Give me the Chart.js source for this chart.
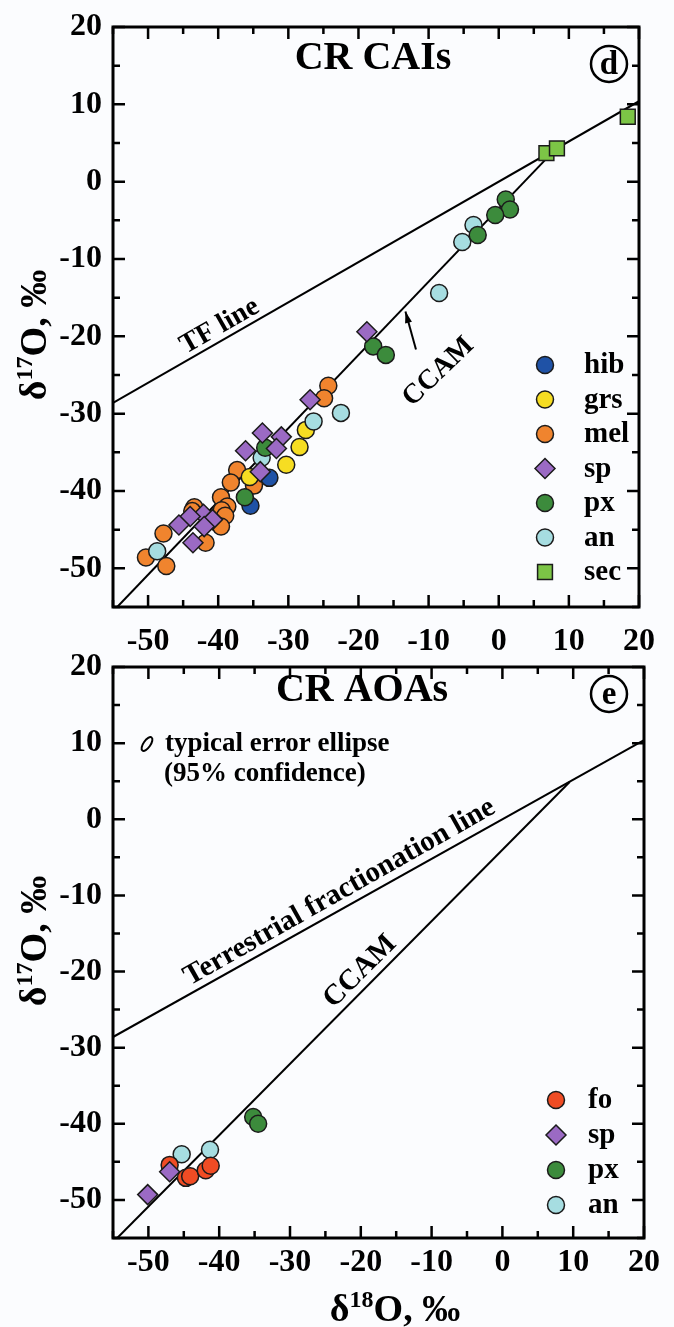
<!DOCTYPE html>
<html lang="en">
<head>
<meta charset="UTF-8">
<title>CR CAIs and AOAs: oxygen isotopes</title>
<script src="https://cdn.jsdelivr.net/npm/chart.js"></script>
<style>
  body { margin: 0; background: #fbfcfe; }
  #page { position: relative; width: 674px; height: 1327px; }
  .panel { position: absolute; left: 0; width: 674px; }
  #panelD { top: 0; height: 660px; }
  #panelE { top: 640px; height: 687px; }
</style>
</head>
<body>
<div id="page">
  <div class="panel" id="panelD"><canvas id="caiChart"></canvas></div>
  <div class="panel" id="panelE"><canvas id="aoaChart"></canvas></div>
</div>
<script>
// axis range and ticks (delta18O on x, delta17O on y, permil)
const axisMin = -55;
const axisMax = 20;
const tickStep = 5;

// reference lines: [x0, x1], [y0, y1]
const tfLineX = [-55, 20];
const tfLineY = [-28.6, 10.4];
const ccamCaiX = [-54.4, 8.2];
const ccamCaiY = [-55, 4.3];
const ccamAoaX = [-54.4, 9.5];
const ccamAoaY = [-55, 4.9];

// (d) CR CAIs
const caiHibX = [-32.7, -35.4];
const caiHibY = [-38.3, -41.9];
const caiGrsX = [-27.5, -28.4, -30.3, -35.5];
const caiGrsY = [-32.1, -34.3, -36.6, -38.2];
const caiMelX = [-24.3, -24.9, -37.3, -38.2, -34.9, -39.6, -38.7, -39.5, -39.0, -39.6, -43.4, -43.7, -41.8, -47.8, -50.3, -47.4];
const caiMelY = [-26.4, -28.0, -37.3, -38.9, -39.3, -40.8, -42.0, -42.5, -43.2, -44.6, -42.1, -42.6, -46.7, -45.5, -48.6, -49.7];
const caiSpX = [-18.8, -26.9, -31.0, -33.7, -36.1, -31.7, -34.0, -42.1, -40.8, -44.0, -45.6, -42.0, -43.6];
const caiSpY = [-19.4, -28.2, -33.0, -32.5, -34.8, -34.5, -37.5, -43.0, -43.7, -43.3, -44.4, -44.6, -46.7];
const caiPxX = [1.0, 1.6, -0.5, -3.0, -17.9, -16.1, -33.3, -36.2];
const caiPxY = [-2.3, -3.6, -4.3, -6.9, -21.3, -22.4, -34.4, -40.8];
const caiAnX = [-3.6, -5.2, -8.5, -22.5, -26.4, -33.8, -48.7];
const caiAnY = [-5.6, -7.8, -14.4, -29.9, -31.0, -35.7, -47.8];
const caiSecX = [6.8, 8.3, 18.4];
const caiSecY = [3.7, 4.3, 8.4];

// (e) CR AOAs
const aoaFoX = [-47.0, -44.7, -44.1, -41.9, -41.2];
const aoaFoY = [-45.4, -47.1, -46.9, -46.1, -45.5];
const aoaSpX = [-50.1, -47.0];
const aoaSpY = [-49.3, -46.3];
const aoaPxX = [-35.2, -34.5];
const aoaPxY = [-39.1, -40.0];
const aoaAnX = [-45.3, -41.3];
const aoaAnY = [-44.0, -43.4];

const FONT = '"Liberation Serif", "Times New Roman", serif';

const colors = {
  hib: '#1f52a6', grs: '#f6dd22', mel: '#f0842e', sp: '#9b6ac4',
  px: '#3c8b3c', an: '#a6dde1', sec: '#7cc546', fo: '#f04c24'
};

function pts(xs, ys) {
  return xs.map((x, i) => ({ x: x, y: ys[i] }));
}

function markerSet(label, xs, ys, style, order) {
  const r = style === 'rectRot' ? 10 : style === 'rect' ? 10.5 : 8.5;
  return {
    label: label,
    data: pts(xs, ys),
    pointStyle: style,
    pointRadius: r,
    pointBackgroundColor: colors[label],
    pointBorderColor: '#1b1b1b',
    pointBorderWidth: 1.5,
    showLine: false,
    order: order,
    inLegend: true
  };
}

function refLine(xs, ys) {
  return {
    label: '',
    data: pts(xs, ys),
    showLine: true,
    borderColor: '#000',
    borderWidth: 2,
    pointRadius: 0,
    order: 20,
    inLegend: false
  };
}

function drawMarker(ctx, style, x, y, r, fill) {
  ctx.beginPath();
  if (style === 'rectRot') {
    ctx.moveTo(x, y - r); ctx.lineTo(x + r, y); ctx.lineTo(x, y + r); ctx.lineTo(x - r, y); ctx.closePath();
  } else if (style === 'rect') {
    const s = r * Math.SQRT1_2;
    ctx.rect(x - s, y - s, 2 * s, 2 * s);
  } else {
    ctx.arc(x, y, r, 0, Math.PI * 2);
  }
  ctx.fillStyle = fill;
  ctx.fill();
  ctx.lineWidth = 1.5;
  ctx.strokeStyle = '#1b1b1b';
  ctx.stroke();
}

// "δ18O, ‰" with the mass number as a superscript
function isoLabel(ctx, mass, cx, cy, rot, size) {
  const big = `bold ${size}px ${FONT}`;
  const small = `bold ${Math.round(size * 0.62)}px ${FONT}`;
  ctx.save();
  ctx.translate(cx, cy);
  ctx.rotate(rot);
  ctx.font = big;
  const w1 = ctx.measureText('δ').width;
  const w3 = ctx.measureText('O, ‰').width;
  ctx.font = small;
  const w2 = ctx.measureText(mass).width;
  let x = -(w1 + w2 + w3) / 2;
  const base = size * 0.34;
  ctx.fillStyle = '#000';
  ctx.textBaseline = 'alphabetic';
  ctx.textAlign = 'left';
  ctx.font = big; ctx.fillText('δ', x, base); x += w1;
  ctx.font = small; ctx.fillText(mass, x, base - size * 0.36); x += w2;
  ctx.font = big; ctx.fillText('O, ‰', x, base);
  ctx.restore();
}

// frame with inward ticks on all four sides
const framePlugin = {
  id: 'frame',
  afterDatasetsDraw(chart) {
    const { ctx, chartArea: a, scales } = chart;
    ctx.save();
    ctx.strokeStyle = '#000';
    ctx.lineWidth = 2.5;
    scales.x.ticks.forEach(t => {
      const p = scales.x.getPixelForValue(t.value);
      const len = t.value % 10 === 0 ? 12 : 7;
      ctx.beginPath();
      ctx.moveTo(p, a.bottom); ctx.lineTo(p, a.bottom - len);
      ctx.moveTo(p, a.top); ctx.lineTo(p, a.top + len);
      ctx.stroke();
    });
    scales.y.ticks.forEach(t => {
      const p = scales.y.getPixelForValue(t.value);
      const len = t.value % 10 === 0 ? 12 : 7;
      ctx.beginPath();
      ctx.moveTo(a.left, p); ctx.lineTo(a.left + len, p);
      ctx.moveTo(a.right, p); ctx.lineTo(a.right - len, p);
      ctx.stroke();
    });
    ctx.lineWidth = 3;
    ctx.strokeRect(a.left, a.top, a.right - a.left, a.bottom - a.top);
    ctx.restore();
  }
};

// titles, panel letter, line labels, legend
const decoPlugin = {
  id: 'deco',
  afterDatasetsDraw(chart, args, opts) {
    const { ctx, scales: { x, y } } = chart;
    ctx.save();
    ctx.fillStyle = '#000';
    ctx.textBaseline = 'middle';
    ctx.textAlign = 'center';

    ctx.font = `bold 40px ${FONT}`;
    ctx.fillText(opts.title, opts.titleX, opts.titleY);

    ctx.lineWidth = 2.5;
    ctx.strokeStyle = '#000';
    ctx.beginPath();
    ctx.arc(opts.letterX, opts.letterY, 18, 0, Math.PI * 2);
    ctx.stroke();
    ctx.font = `bold 33px ${FONT}`;
    ctx.fillText(opts.letter, opts.letterX, opts.letterY + 1);

    isoLabel(ctx, '17', opts.yTitleX, opts.yTitleY, -Math.PI / 2, 38);
    if (opts.xTitle) isoLabel(ctx, '18', opts.xTitleX, opts.xTitleY, 0, 38);

    opts.notes.forEach(n => {
      ctx.save();
      ctx.translate(x.getPixelForValue(n.x), y.getPixelForValue(n.y));
      ctx.rotate(n.angle * Math.PI / 180);
      ctx.font = `bold ${n.size}px ${FONT}`;
      ctx.fillText(n.text, 0, 0);
      ctx.restore();
    });

    if (opts.arrow) {
      const [x0, y0, x1, y1] = opts.arrow;
      const px0 = x.getPixelForValue(x0), py0 = y.getPixelForValue(y0);
      const px1 = x.getPixelForValue(x1), py1 = y.getPixelForValue(y1);
      const ang = Math.atan2(py1 - py0, px1 - px0);
      ctx.lineWidth = 2;
      ctx.beginPath();
      ctx.moveTo(px0, py0); ctx.lineTo(px1, py1);
      ctx.stroke();
      ctx.beginPath();
      ctx.moveTo(px1, py1);
      ctx.lineTo(px1 - 12 * Math.cos(ang - 0.3), py1 - 12 * Math.sin(ang - 0.3));
      ctx.lineTo(px1 - 12 * Math.cos(ang + 0.3), py1 - 12 * Math.sin(ang + 0.3));
      ctx.closePath();
      ctx.fill();
    }

    if (opts.ellipseNote) {
      const e = opts.ellipseNote;
      ctx.lineWidth = 2;
      ctx.beginPath();
      ctx.ellipse(e.x, e.y, 3.5, 8, 35 * Math.PI / 180, 0, Math.PI * 2);
      ctx.stroke();
      ctx.textAlign = 'left';
      ctx.font = `bold 27px ${FONT}`;
      ctx.fillText('typical error ellipse', e.x + 18, e.y);
      ctx.fillText('(95% confidence)', e.x + 17, e.y + 30);
    }

    // legend
    const lg = opts.legend;
    const sets = chart.data.datasets.filter(d => d.inLegend);
    const ordered = lg.order.map(k => sets.find(d => d.label === k));
    ctx.textAlign = 'left';
    ctx.font = `bold 29px ${FONT}`;
    ordered.forEach((d, i) => {
      const ry = lg.top + i * lg.step;
      drawMarker(ctx, d.pointStyle, lg.markX, ry, d.pointRadius, d.pointBackgroundColor);
      ctx.fillStyle = '#000';
      ctx.fillText(d.label, lg.textX, ry + 1);
    });
    ctx.restore();
  }
};

function axisOpts(pad, fit) {
  return {
    type: 'linear',
    min: axisMin,
    max: axisMax,
    afterFit: fit,
    grid: { display: false, drawTicks: false },
    border: { display: false },
    ticks: {
      stepSize: tickStep,
      maxTicksLimit: 20,
      autoSkip: false,
      maxRotation: 0,
      padding: pad,
      color: '#000',
      font: { family: FONT, size: 32, weight: 'bold', lineHeight: 1 },
      callback: v => (v % 10 === 0 ? String(v) : '')
    }
  };
}

function panel(canvasId, datasets, layout, deco) {
  return new Chart(document.getElementById(canvasId), {
    type: 'scatter',
    data: { datasets: datasets },
    options: {
      responsive: true,
      maintainAspectRatio: false,
      animation: false,
      layout: { padding: { top: layout.padTop, right: 30, left: 0, bottom: 0 } },
      scales: {
        x: axisOpts(layout.xPad, s => { s.height = layout.xHeight; }),
        y: axisOpts(11, s => { s.width = 113; })
      },
      plugins: {
        legend: { display: false },
        tooltip: { enabled: false },
        deco: deco
      }
    },
    plugins: [framePlugin, decoPlugin]
  });
}

panel('caiChart', [
  markerSet('sp', caiSpX, caiSpY, 'rectRot', 1),
  markerSet('px', caiPxX, caiPxY, 'circle', 2),
  markerSet('hib', caiHibX, caiHibY, 'circle', 3),
  markerSet('an', caiAnX, caiAnY, 'circle', 4),
  markerSet('grs', caiGrsX, caiGrsY, 'circle', 5),
  markerSet('mel', caiMelX, caiMelY, 'circle', 6),
  markerSet('sec', caiSecX, caiSecY, 'rect', 0),
  refLine(tfLineX, tfLineY),
  refLine(ccamCaiX, ccamCaiY)
], { padTop: 24, xHeight: 53, xPad: 19 }, {
  title: 'CR CAIs', titleX: 373, titleY: 59,
  letter: 'd', letterX: 609, letterY: 64,
  yTitleX: 33, yTitleY: 335,
  notes: [
    { text: 'TF line', x: -39.8, y: -18.7, angle: -29.7, size: 28 },
    { text: 'CCAM', x: -8.6, y: -24.6, angle: -44, size: 28 }
  ],
  arrow: [-11.8, -21.7, -13.3, -16.8],
  legend: { order: ['hib', 'grs', 'mel', 'sp', 'px', 'an', 'sec'], markX: 545, textX: 584, top: 365, step: 34.5 }
});

panel('aoaChart', [
  markerSet('sp', aoaSpX, aoaSpY, 'rectRot', 1),
  markerSet('fo', aoaFoX, aoaFoY, 'circle', 2),
  markerSet('px', aoaPxX, aoaPxY, 'circle', 3),
  markerSet('an', aoaAnX, aoaAnY, 'circle', 4),
  refLine(tfLineX, tfLineY),
  refLine(ccamAoaX, ccamAoaY)
], { padTop: 17, xHeight: 89, xPad: 9 }, {
  title: 'CR AOAs', titleX: 362, titleY: 51,
  letter: 'e', letterX: 609, letterY: 54,
  yTitleX: 33, yTitleY: 301,
  xTitle: true, xTitleX: 395, xTitleY: 668,
  notes: [
    { text: 'Terrestrial fractionation line', x: -23.0, y: -9.6, angle: -29.5, size: 29 },
    { text: 'CCAM', x: -20.1, y: -20.0, angle: -45, size: 29 }
  ],
  ellipseNote: { x: 147, y: 104 },
  legend: { order: ['fo', 'sp', 'px', 'an'], markX: 556, textX: 588, top: 460, step: 35 }
});
</script>
</body>
</html>
